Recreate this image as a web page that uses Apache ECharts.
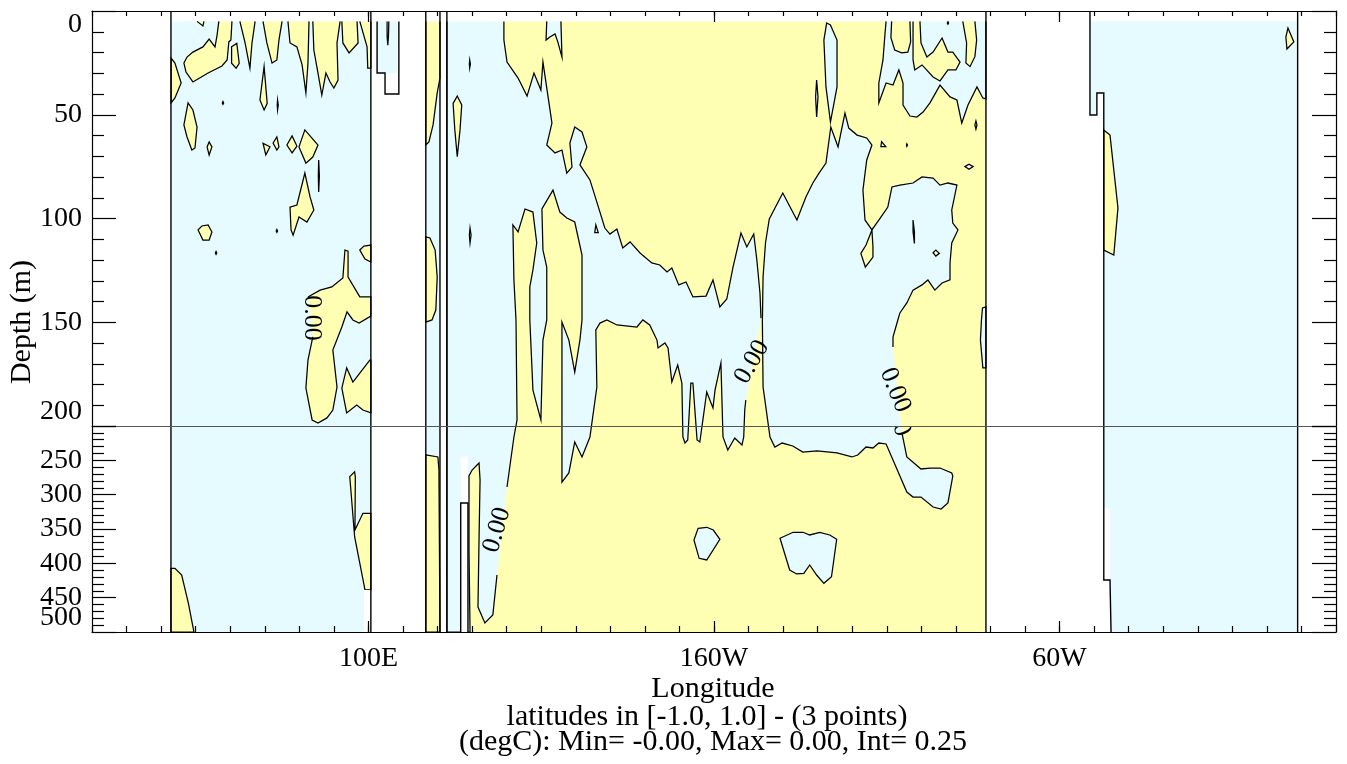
<!DOCTYPE html>
<html><head><meta charset="utf-8">
<script src="https://cdn.jsdelivr.net/npm/echarts@6/dist/echarts.min.js"></script>
<style>html,body{margin:0;padding:0;background:#fff}#c{width:1347px;height:764px}</style>
</head><body><div id="c"></div>
<script>
// ---------- axes / scale data ----------
const LON_MIN = 20, LON_MAX = 380;
const D_TOP = 0, D_BREAK = 200, D_BOT = 500;
const xMajorTicks = [100, 200, 300];
const xMajorLabels = {100: '100E', 200: '160W', 300: '60W'};
const yUpperTicks = [0, 50, 100, 150, 200];
const yLowerTicks = [250, 300, 350, 400, 450];
const yBottomTick = [500];

// ---------- basins (ocean areas with data), [lon, depth] ----------
const indianBasin = [[42.85,5],[100.7,5],[100.7,500],[42.85,500]];
const smallBasin  = [[102.5,5],[108.3,5],[108.3,29.9],[102.5,29.9]];
const stripBasin  = [[116.6,5],[120.7,5],[120.7,500],[116.6,500]];
const pacificBasin = [[122.7,5],[278.7,5],[278.7,500],[122.7,500]];
const atlanticBasin = [[308.8,5],[368.9,5],[368.9,500],[314.9,500],[314.6,424.3],[312.8,424.3],[312.8,39.5],[310.8,39.5],[310.8,50.1],[308.8,50.1]];

// ---------- coast / bottom lines ----------
const coastLines = [
  [[42.85,0],[42.85,500]], [[100.7,0],[100.7,500]],
  [[102.5,5],[102.5,29.9],[104.8,29.9],[104.8,40.0],[108.8,40.0],[108.8,5]],
  [[116.6,0],[116.6,500]], [[120.7,0],[120.7,500]],
  [[122.7,0],[122.7,500]], [[278.7,0],[278.7,500]],
  [[126.7,500],[126.7,312.1],[128.8,312.1],[128.8,500]],
  [[308.8,0],[308.8,50.1],[310.8,50.1],[310.8,39.5],[312.8,39.5],[312.8,424.3],[314.6,424.3],[314.9,500]],
  [[368.9,0],[368.9,500]]
];
const landPatches = [
  [[98.7,438.8],[100.7,438.8],[100.7,500],[98.7,500]],
  [[126.7,245.1],[128.8,245.1],[128.8,500],[126.7,500]],
  [[312.9,319.4],[314.6,319.4],[314.6,424.3],[312.9,424.3]]
];

// ---------- contour regions: negative side (blue) ----------
// null = the edge to the next vertex carries no contour line
const pacWestBand = [[139.2,5],[139.2,14.0],[140.1,24.6],[143.3,32.3],[145.9,41.0],[147.9,29.9],[149.9,38.1],[150.5,24.6],[153.1,54.0],[151.6,64.6],[154.0,68.4],[156.0,67.0],[157.4,78.1],[158.9,75.2],[158.3,63.6],[159.7,55.9],[161.8,58.3],[163.2,65.5],[161.2,74.2],[164.1,81.4],[167.0,96.9],[168.4,104.6],[169.9,107.5],[171.9,105.1],[173.6,114.2],[175.7,111.3],[178.6,116.6],[182.0,121.4],[184.3,122.4],[186.4,125.8],[187.8,123.9],[189.8,132.0],[191.9,130.6],[193.9,137.8],[197.7,137.4],[199.7,129.6],[201.7,142.6],[203.7,138.8],[205.5,123.4],[207.8,107.0],[209.5,113.7],[211.5,107.5],[212.4,120.0],[213.3,135.9],[213.6,148.0],null,
  [209.2,187.5],[208.9,192.3],[208.6,216.0],[208.1,227.7],[206.0,217.5],[204.0,235.0],[202.6,216.0],[202.0,169.6],[200.3,182.7],[199.7,191.3],[197.9,183.6],[195.9,223.3],[195.1,220.4],[193.9,179.3],[193.3,179.3],[192.4,220.4],[191.6,224.8],[191.0,216.0],[190.7,179.3],[189.5,170.6],[187.8,178.8],[186.7,162.4],[185.8,160.0],[183.8,162.4],[183.5,158.6],[181.4,151.3],[179.4,148.9],[177.7,152.3],[171.9,151.3],[169.0,148.9],[167.0,150.4],[165.8,153.7],[166.1,181.2],[164.1,216.0],[161.8,245.1],[159.7,223.3],[158.0,268.4],[156.0,281.6],[156.0,187.5],[156.0,158.6],[156.0,149.9],[158.0,158.6],[159.7,174.0],[161.2,158.6],[161.8,148.9],[161.8,117.6],[159.7,101.7],[157.4,99.8],[155.4,96.9],[153.4,86.3],[150.2,95.4],[150.5,115.2],[151.6,123.4],[151.6,148.9],[150.5,158.6],[149.9,197.1],[147.6,182.7],[146.7,148.9],[146.7,133.0],[147.6,124.8],[148.7,111.8],[147.6,96.9],[145.3,95.4],[143.3,106.5],[141.8,103.1],[142.1,129.6],[142.7,148.9],[143.0,197.1],[142.1,216.0],[140.1,288.8],null,
  [137.2,417.0],[136.0,475.2],[133.7,486.9],[131.7,463.6],[132.0,366.0],[132.3,278.6],[132.0,253.9],[130.0,264.1],[129.1,272.8],[129.1,380.6],[129.4,500],[122.7,500],[122.7,5],null];
const pacEastPool = [[237.9,49.2],[239.0,56.4],[241.4,59.8],[244.2,61.2],[245.7,64.6],[244.2,71.8],[243.1,86.3],[243.7,100.7],[245.7,105.5],[248.3,99.3],[250.3,94.5],[251.5,84.8],[253.8,83.9],[257.6,82.9],[260.2,80.0],[263.4,80.5],[265.4,83.9],[267.7,82.9],[270.3,83.9],[268.8,95.9],[269.1,102.2],[270.6,105.5],[268.8,111.8],[268.3,121.4],[268.3,129.6],[266.0,131.1],[263.9,134.5],[261.9,129.6],[260.2,132.0],[257.6,134.5],[255.8,140.7],[253.8,145.5],[253.2,148.9],[251.8,157.1],[251.8,161.9],null,
  [254.4,210.2],[255.8,245.1],[259.9,262.6],[262.5,261.2],[265.4,261.2],[268.8,268.4],[269.1,272.8],[267.7,312.1],[265.7,320.9],[263.4,318.0],[259.9,303.4],[257.6,303.4],[255.8,296.1],[251.8,249.5],[249.8,226.2],[247.7,224.8],[246.0,232.0],[244.0,230.6],[241.6,242.2],[239.9,245.1],[235.6,239.3],[229.8,236.4],[225.7,237.9],[222.8,229.1],[219.7,224.8],[217.6,230.6],[216.2,216.0],[214.2,181.2],[214.0,149.9],[214.2,128.2],[214.9,111.8],[216.0,100.2],[219.9,87.7],[224.0,100.7],[226.6,89.6],[228.6,82.9],[230.4,78.1],[232.4,73.3],[233.8,55.9],[235.9,65.5]];
const pacEastTop = [[249.8,5],[249.5,10.6],[248.9,23.6],[247.7,34.7],[247.7,44.3],[249.8,34.7],[251.8,35.7],[253.5,28.4],[254.7,34.7],[254.7,45.3],[256.7,50.6],[258.7,51.1],[260.5,48.7],[262.5,44.3],[265.4,35.7],[268.3,41.4],[270.3,42.9],[271.7,54.0],[273.5,45.3],[276.1,36.6],[277.8,41.9],[278.7,42.4],[278.7,5],null];
const blueSmall = [
  [[151.6,5],[151.4,14.0],[152.5,12.5],[154.0,11.1],[154.8,14.9],[156.0,22.2],[155.7,5],null],
  [[232.6,5.8],[233.7,6.7],[235.6,14.0],[235.6,36.6],[233.7,53.5],[232.4,36.6],[231.8,14.0]],
  [[229.7,33.3],[230.1,41.4],[229.7,51.1],[229.4,41.4]],
  [[248.5,63.0],[249.7,65.4],[248.3,65.4]],
  [[255.7,64.6],[255.8,64.0],[256.0,64.6],[255.8,65.2]],
  [[272.6,75.0],[273.8,73.8],[275.0,75.0],[273.8,76.3]],
  [[275.8,53.0],[276.1,54.9],[275.8,56.9],[275.5,54.9]],
  [[277.7,143.1],[277.4,148.9],[277.1,158.6],[277.8,172.0],[278.7,172.0],[278.7,142.6]],
  [[195.4,349.0],[197.9,347.5],[199.8,351.5],[201.7,365.0],[197.9,395.1],[195.7,392.7],[194.2,366.0]],
  [[219.1,363.5],[222.9,354.8],[225.8,354.8],[227.7,358.7],[230.6,354.8],[233.5,358.7],[235.5,365.0],[234.0,419.5],[231.8,429.1],[229.7,417.0],[227.7,402.4],[226.0,414.5],[223.9,415.5],[221.9,409.7]]
];

// ---------- contour regions: positive side (yellow) ----------
const indianPos = [
  [[42.9,22.7],[44.0,25.1],[45.8,34.7],[44.0,41.9],[42.9,44.3]],
  [[50.4,5],[52.1,7.2],[52.4,5],null],
  [[56.7,5],[56.2,11.6],[55.6,17.3],[53.9,13.5],[52.1,17.3],[49.2,19.8],[47.5,22.2],[46.6,25.1],[47.2,29.4],[49.2,34.2],[53.6,29.9],[57.6,26.5],[59.1,23.6],[59.6,14.9],[60.2,14.0],[60.5,5],null],
  [[60.4,17.2],[61.9,15.6],[62.6,25.2],[61.7,27.6],[60.4,25.2]],
  [[62.8,5],[64.3,15.4],[65.7,27.5],[66.3,15.4],[67.2,5],null],
  [[69.5,5],[70.6,15.4],[72.1,25.1],[73.5,23.6],[74.1,14.0],[75.0,5],null],
  [[76.7,5],[77.3,15.4],[79.3,17.3],[80.8,26.0],[81.9,39.5],[82.5,25.1],[82.8,5],null],
  [[83.9,5],[84.2,18.8],[85.4,29.9],[86.5,40.5],[87.7,29.9],[88.9,34.2],[90.0,37.1],[91.2,33.3],[90.9,15.4],[91.8,5],null],
  [[92.3,5],[92.6,15.4],[94.4,20.2],[97.0,15.4],[96.7,5],null],
  [[97.5,5],[99.6,17.3],[99.8,27.5],[100.7,27.5],[100.7,5],null],
  [[46.6,54.9],[47.8,44.3],[49.2,47.7],[50.4,55.9],[49.8,66.0],[48.9,67.0],[47.5,60.7]],
  [[53.3,65.5],[53.9,63.1],[54.7,65.5],[53.9,69.4]],
  [[69.5,63.8],[71.5,65.4],[70.3,69.4]],
  [[72.4,63.6],[73.5,60.7],[74.1,65.5],[73.5,67.0]],
  [[76.4,64.6],[77.9,60.2],[79.3,65.1],[77.9,68.4]],
  [[79.9,65.5],[81.6,57.3],[85.4,64.6],[83.9,70.4],[81.9,73.3]],
  [[85.6,71.8],[85.8,79.5],[85.6,87.2],[85.5,79.5]],
  [[68.6,42.9],[69.8,26.8],[70.7,44.5],[69.8,47.7]],
  [[73.7,42.9],[73.9,45.3],[73.7,47.7],[73.6,45.3]],
  [[57.7,44.3],[57.9,43.6],[58.1,44.3],[57.9,45.0]],
  [[77.3,94.5],[79.3,93.5],[81.6,78.1],[83.1,89.6],[84.2,95.9],[82.2,101.7],[79.9,99.3],[78.2,108.0],[77.6,105.5]],
  [[50.7,105.5],[51.8,103.6],[53.6,103.1],[54.7,106.5],[53.9,110.4],[52.1,110.4]],
  [[73.3,106.0],[73.5,105.3],[73.7,106.0],[73.5,106.7]],
  [[55.7,116.6],[55.9,115.9],[56.1,116.6],[55.9,117.3]],
  [[97.5,115.2],[98.7,113.3],[100.7,112.8],[100.7,121.0],[99.0,119.5]],
  [[82.5,137.8],[86.0,134.5],[89.4,133.0],[92.6,128.7],[93.2,115.2],[94.1,115.7],[94.1,128.2],[97.5,137.8],[100.7,137.8],[100.7,147.0],[97.3,150.4],[95.5,148.9],[93.8,145.0],[92.3,152.3],[89.7,163.4],[90.9,181.2],[89.7,192.3],[88.0,196.1],[85.4,198.6],[83.7,197.1],[81.9,181.7],[82.5,168.2],[83.9,157.1],null,[83.4,148.9],null,[82.8,141.7],null],
  [[92.3,181.7],[93.7,172.0],[95.5,178.8],[97.5,174.5],[100.4,168.2],[100.7,168.2],[100.7,193.7],[98.4,192.3],[96.6,189.9],[93.7,193.7]],
  [[94.6,273.8],[96.0,266.6],[96.2,273.8],[96.1,351.5],[98.4,327.1],[100.7,327.1],[100.7,438.8],[99.0,438.8],[96.0,361.2]],
  [[42.85,407.2],[44.0,407.2],[45.95,417.0],[47.9,458.3],[49.5,500],[42.85,500]]
];
const otherPos = [
  [[105.9,5],[105.8,12],[105.6,16.5],[105.4,12],[105.4,5],null],
  [[120.7,5],[120.7,32.3],[119.9,39.5],[118.7,54.9],[117.5,63.1],[116.6,64.6],[116.6,5],null],
  [[116.6,108.9],[117.8,109.4],[119.3,115.2],[119.9,128.2],[119.5,144.1],[118.4,148.9],[116.6,149.9]],
  [[116.6,242.2],[120.1,245.1],[120.4,264.1],[120.7,500],[116.6,500]],
  [[124.5,44.5],[125.7,41.0],[127.0,45.3],[126.5,57.3],[125.7,70.2],[125.0,57.3]],
  [[129.4,104.6],[129.7,108.0],[129.4,111.8],[129.2,108.0]],
  [[129.3,23.6],[129.5,25.5],[129.3,27.5],[129.2,25.5]],
  [[165.8,103.1],[166.5,106.8],[165.5,106.8]],
  [[251.4,5],[251.2,12.9],[252.3,18.8],[254.3,20.2],[256.1,19.8],[256.9,14.9],[256.7,5],null],
  [[257.6,5],[257.6,23.6],[258.1,28.4],[260.2,26.0],[263.4,31.8],[265.4,33.7],[267.7,28.4],[270.0,28.4],[271.2,24.6],[269.1,19.8],[267.7,19.8],[266.0,13.0],[263.4,19.8],[261.6,22.2],[259.9,15.4],[259.6,5],null],
  [[272.0,5],[273.1,15.4],[272.9,25.1],[274.1,26.8],[275.5,22.0],[276.0,14.0],[275.5,5],null],
  [[267.5,5.8],[267.7,5.2],[267.9,5.8],[267.7,6.4]],
  [[245.7,105.5],[244.0,112.8],[242.5,116.8],[243.8,123.4],[246.0,118.6],[246.0,113.7]],
  [[257.6,100.7],[258.0,106.4],[258.0,112.0],[257.6,106.4]],
  [[263.4,116.5],[264.2,115.2],[265.2,116.8],[264.2,118.1]],
  [[312.8,57.3],[314.6,59.8],[316.9,94.9],[315.7,117.6],[312.8,115.2]],
  [[365.5,12.5],[366.1,8.2],[367.8,14.9],[365.8,18.3]]
];

// ---------- contour labels: [lon, depth, angle in degrees] ----------
const contourLabels = [[83.7,148.0,-90],[137.2,351.5,74],[211.0,169.2,60],[252.4,182.7,-68]];
const labelText = '0.00';

// ---------- layout constants ----------
const GRID_LEFT = 92, GRID_W = 1244, GRID1_TOP = 11, GRID1_H = 415, GRID2_H = 206;
const BLUE = '#e6fbff', YELLOW = '#ffffb4', LW = 1.25;
const FONT = '"Liberation Serif", "DejaVu Serif", serif';

function tpos(d) { return d <= D_BREAK ? (d - D_TOP) / (D_BREAK - D_TOP) * GRID1_H : GRID1_H + (d - D_BREAK) / (D_BOT - D_BREAK) * GRID2_H; }
function toVerts(poly) {
  const v = [];
  for (const it of poly) { if (it === null) { if (v.length) v[v.length - 1].s = false; } else v.push({p: it, s: true}); }
  return v;
}
function splitVerts(v, closed) {
  const out = [], n = v.length, m = closed ? n : n - 1;
  for (let i = 0; i < n; i++) {
    out.push(v[i]);
    if (i >= m) continue;
    const a = v[i], b = v[(i + 1) % n], da = a.p[1], db = b.p[1];
    if ((da - D_BREAK) * (db - D_BREAK) < 0) {
      const f = (tpos(D_BREAK) - tpos(da)) / (tpos(db) - tpos(da));
      out.push({p: [a.p[0] + f * (b.p[0] - a.p[0]), D_BREAK], s: a.s});
    }
  }
  return out;
}
const prep = p => splitVerts(toVerts(p), true);
const layers = [
  {fill: BLUE, stroke: false, polys: [indianBasin, smallBasin, stripBasin, atlanticBasin].map(prep)},
  {fill: YELLOW, stroke: false, polys: [pacificBasin].map(prep)},
  {fill: BLUE, stroke: true, polys: [pacWestBand, pacEastPool, pacEastTop].concat(blueSmall).map(prep)},
  {fill: YELLOW, stroke: true, polys: indianPos.concat(otherPos).map(prep)},
  {fill: '#ffffff', stroke: false, polys: landPatches.map(prep)}
];
const lines = coastLines.map(l => splitVerts(toVerts(l), false));

function renderPanel(params, api) {
  const cs = params.coordSys, ch = [];
  const pl = pts => ({type: 'polyline', shape: {points: pts}, style: {fill: 'none', stroke: '#000', lineWidth: LW}, silent: true});
  for (const layer of layers) {
    for (const verts of layer.polys) {
      const pts = verts.map(o => api.coord(o.p));
      ch.push({type: 'polygon', shape: {points: pts}, style: {fill: layer.fill, stroke: 'none'}, silent: true});
      if (!layer.stroke) continue;
      const n = verts.length, br = verts.findIndex(o => !o.s);
      if (br < 0) { ch.push({type: 'polygon', shape: {points: pts}, style: {fill: 'none', stroke: '#000', lineWidth: LW}, silent: true}); continue; }
      const start = (br + 1) % n; let cur = [];
      for (let k = 0; k < n; k++) {
        const j = (start + k) % n; cur.push(pts[j]);
        if (!verts[j].s) { if (cur.length > 1) ch.push(pl(cur)); cur = []; }
      }
      if (cur.length > 1) ch.push(pl(cur));
    }
  }
  for (const l of lines) ch.push({type: 'polyline', shape: {points: l.map(o => api.coord(o.p))}, style: {fill: 'none', stroke: '#000', lineWidth: 1.4}, silent: true});
  for (const lb of contourLabels) {
    const pt = api.coord([lb[0], lb[1]]);
    ch.push({type: 'text', x: pt[0], y: pt[1], rotation: lb[2] * Math.PI / 180,
      style: {text: labelText, fontSize: 26, fontFamily: FONT, fill: '#000', align: 'center', verticalAlign: 'middle'}, silent: true});
  }
  return {type: 'group', children: ch, clipPath: {type: 'rect', shape: {x: cs.x, y: cs.y, width: cs.width, height: cs.height}}};
}

const lbl = {color: '#000', fontSize: 28, fontFamily: FONT};
const xBase = (gi, pos, extra) => Object.assign({
  gridIndex: gi, type: 'value', min: LON_MIN, max: LON_MAX, position: pos, z: 10,
  axisLine: {show: false}, splitLine: {show: false}, axisLabel: {show: false}, axisTick: {show: false}
}, extra);
const yBase = (gi, pos, mn, mx, extra) => Object.assign({
  gridIndex: gi, type: 'value', min: mn, max: mx, interval: 50, inverse: true, position: pos, z: 10,
  axisLine: {show: true, onZero: false, lineStyle: {color: '#000', width: 1.2}},
  axisTick: {show: true, inside: true, length: 24, lineStyle: {color: '#000', width: 1.2}},
  minorTick: {show: true, splitNumber: 5, length: 12, lineStyle: {color: '#000', width: 1.2}},
  splitLine: {show: false}, minorSplitLine: {show: false}, axisLabel: {show: false}
}, extra);

const option = {
  animation: false,
  backgroundColor: '#fff',
  grid: [
    {left: GRID_LEFT, top: GRID1_TOP, width: GRID_W, height: GRID1_H},
    {left: GRID_LEFT, top: GRID1_TOP + GRID1_H, width: GRID_W, height: GRID2_H}
  ],
  xAxis: [
    xBase(0, 'top', {interval: 10, axisLine: {show: true, onZero: false, lineStyle: {color: '#000', width: 1.2}}, axisTick: {show: true, inside: true, length: 5, lineStyle: {color: '#000', width: 1.2}}}),
    xBase(0, 'top', {axisTick: {show: true, inside: true, length: 11, customValues: xMajorTicks, lineStyle: {color: '#000', width: 1.2}}}),
    xBase(0, 'bottom', {axisLine: {show: true, onZero: false, lineStyle: {color: '#555', width: 1.2}}}),
    xBase(1, 'bottom', {interval: 10, axisLine: {show: true, onZero: false, lineStyle: {color: '#000', width: 1.2}}, axisTick: {show: true, inside: true, length: 6, lineStyle: {color: '#000', width: 1.2}}}),
    xBase(1, 'bottom', {axisTick: {show: true, inside: true, length: 11, customValues: xMajorTicks, lineStyle: {color: '#000', width: 1.2}},
      axisLabel: Object.assign({show: true, margin: 13, customValues: xMajorTicks, formatter: v => xMajorLabels[v] || ''}, lbl)})
  ],
  yAxis: [
    yBase(0, 'left', D_TOP, D_BREAK, {axisLabel: Object.assign({show: true, margin: 10, showMinLabel: true, showMaxLabel: true, verticalAlignMinLabel: 'top', verticalAlignMaxLabel: 'bottom', formatter: v => yUpperTicks.includes(v) ? String(v) : ''}, lbl)}),
    yBase(0, 'right', D_TOP, D_BREAK, {}),
    yBase(1, 'left', D_BREAK, D_BOT, {axisLabel: Object.assign({show: true, margin: 10, customValues: yLowerTicks, hideOverlap: false, formatter: v => String(v)}, lbl)}),
    yBase(1, 'right', D_BREAK, D_BOT, {}),
    yBase(1, 'left', D_BREAK, D_BOT, {axisLine: {show: false}, axisTick: {show: false}, minorTick: {show: false},
      axisLabel: Object.assign({show: true, margin: 10, customValues: yBottomTick, verticalAlign: 'bottom', formatter: v => String(v)}, lbl)})
  ],
  graphic: [
    {type: 'text', x: 713, y: 689, style: {text: 'Longitude', fontSize: 30, fontFamily: FONT, fill: '#000', align: 'center', verticalAlign: 'middle'}},
    {type: 'text', x: 707, y: 717, style: {text: 'latitudes in [-1.0, 1.0] - (3 points)', fontSize: 30, fontFamily: FONT, fill: '#000', align: 'center', verticalAlign: 'middle'}},
    {type: 'text', x: 713, y: 742, style: {text: '(degC): Min= -0.00, Max= 0.00, Int= 0.25', fontSize: 30, fontFamily: FONT, fill: '#000', align: 'center', verticalAlign: 'middle'}},
    {type: 'text', x: 22, y: 322, rotation: Math.PI / 2, style: {text: 'Depth (m)', fontSize: 30, fontFamily: FONT, fill: '#000', align: 'center', verticalAlign: 'middle'}}
  ],
  series: [
    {type: 'custom', xAxisIndex: 0, yAxisIndex: 0, renderItem: renderPanel, data: [[LON_MIN, D_TOP]], silent: true, z: 2},
    {type: 'custom', xAxisIndex: 3, yAxisIndex: 2, renderItem: renderPanel, data: [[LON_MIN, D_BREAK]], silent: true, z: 2}
  ]
};
echarts.init(document.getElementById('c'), null, {renderer: 'canvas'}).setOption(option);
</script></body></html>
